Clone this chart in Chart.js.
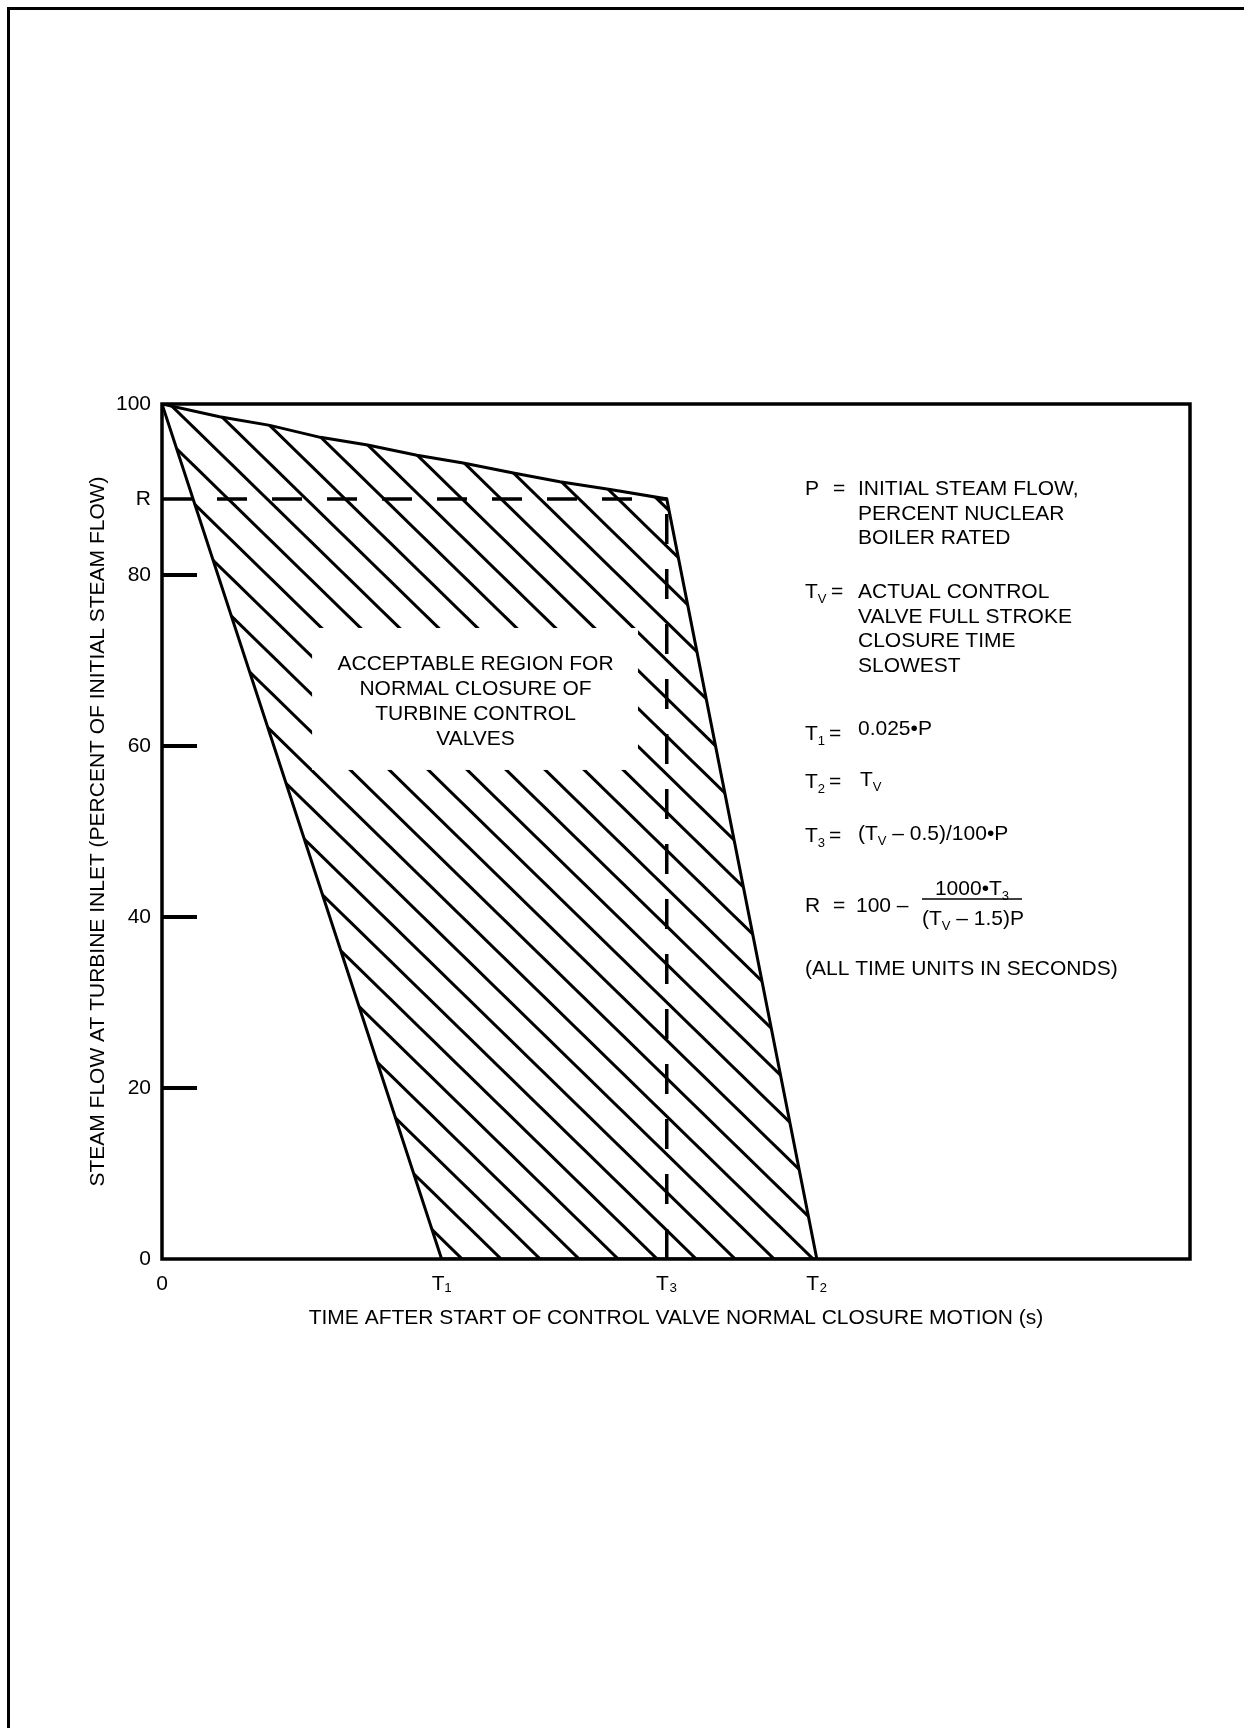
<!DOCTYPE html>
<html>
<head>
<meta charset="utf-8">
<script src="https://cdn.jsdelivr.net/npm/chart.js@4.4.0/dist/chart.umd.min.js"></script>
<style>
  html, body { margin: 0; padding: 0; background: #fff; }
  #page { position: absolute; left: 7px; top: 7px; right: 0; bottom: 0;
          border-top: 3px solid #000; border-left: 3px solid #000; }
  #wrap { position: absolute; left: 0; top: 0; width: 1244px; height: 1728px; }
</style>
</head>
<body>
<div id="page"></div>
<div id="wrap"><canvas id="chart" width="1244" height="1728"></canvas></div>
<script>
/* closure curve - acceptable region for turbine control valves */

const FONT = '"Liberation Sans", Arial, Helvetica, sans-serif';

// time axis marks (arbitrary units, axis runs 0..10)
const T1 = 2.72;
const T3 = 4.91;
const T2 = 6.37;
// R level (percent of initial flow)
const R = 88.9;

// upper edge of the region, from (0,100) to (T3,R)
const upperX = [0, 0.56, 1.05, 1.54, 2.0, 2.48, 2.93, 3.43, 3.87, 4.36, T3];
const upperY = [100, 98.5, 97.5, 96.1, 95.2, 94.0, 93.1, 91.9, 90.9, 90.0, R];

const xTicks = [0, T1, T3, T2];
const xTickLabels = ['0', 'T\u2081', 'T\u2083', 'T\u2082'];
const yTicks = [0, 20, 40, 60, 80, R, 100];
const innerTicks = [20, 40, 60, 80];

const regionText = ['ACCEPTABLE REGION FOR', 'NORMAL CLOSURE OF', 'TURBINE CONTROL', 'VALVES'];
const noteP = ['INITIAL STEAM FLOW,', 'PERCENT NUCLEAR', 'BOILER RATED'];
const noteTV = ['ACTUAL CONTROL', 'VALVE FULL STROKE', 'CLOSURE TIME', 'SLOWEST'];
const noteT1 = ['0.025\u2022P'];
const noteT2 = ['T', ['V']];
const noteT3 = ['(T', ['V'], ' \u2013 0.5)/100\u2022P'];
const noteRnum = ['1000\u2022T', ['3']];
const noteRden = ['(T', ['V'], ' \u2013 1.5)P'];
const noteUnits = '(ALL TIME UNITS IN SECONDS)';

// region polygon: upper edge, right edge down to T2, along axis to T1, back up to origin
const regionPts = upperX.map((x, i) => ({ x: x, y: upperY[i] }))
  .concat([{ x: T2, y: 0 }, { x: T1, y: 0 }, { x: 0, y: 100 }]);

function makeHatch(ctx) {
  const w = 39, h = 38, x0 = 28;
  const c = document.createElement('canvas');
  c.width = w; c.height = h;
  const g = c.getContext('2d');
  g.strokeStyle = '#000';
  g.lineWidth = 3;
  for (let k = -2; k <= 2; k++) {
    g.beginPath();
    g.moveTo(x0 + k * w - w, -h);
    g.lineTo(x0 + k * w + 2 * w, 2 * h);
    g.stroke();
  }
  return ctx.createPattern(c, 'repeat');
}

// text with subscripts: plain strings, or ['x'] for a subscript
function drawRich(ctx, x, y, parts, size) {
  size = size || 21;
  parts.forEach(function(p) {
    const sub = Array.isArray(p);
    const s = sub ? p[0] : p;
    ctx.font = (sub ? 13 : size) + 'px ' + FONT;
    ctx.fillText(s, x, sub ? y + 5 : y);
    x += ctx.measureText(s).width;
  });
  return x;
}
function richWidth(ctx, parts, size) {
  size = size || 21;
  let w = 0;
  parts.forEach(function(p) {
    const sub = Array.isArray(p);
    ctx.font = (sub ? 13 : size) + 'px ' + FONT;
    w += ctx.measureText(sub ? p[0] : p).width;
  });
  return w;
}

const framePlugin = {
  id: 'frame',
  afterDatasetsDraw(chart) {
    const ctx = chart.ctx;
    const { left, top, right, bottom } = chart.chartArea;
    const y = chart.scales.y;
    ctx.save();
    ctx.strokeStyle = '#000';
    ctx.lineWidth = 3.5;
    ctx.strokeRect(left, top, right - left, bottom - top);
    ctx.lineWidth = 4;
    innerTicks.forEach(function(v) {
      const py = y.getPixelForValue(v);
      ctx.beginPath();
      ctx.moveTo(left, py);
      ctx.lineTo(left + 35, py);
      ctx.stroke();
    });
    ctx.restore();
  }
};

const labelPlugin = {
  id: 'labels',
  afterDatasetsDraw(chart) {
    const ctx = chart.ctx;
    const xs = chart.scales.x, ys = chart.scales.y;
    ctx.save();
    // white box over the hatching
    const bx1 = xs.getPixelForValue(1.46), bx2 = xs.getPixelForValue(4.63);
    const by1 = ys.getPixelForValue(73.8), by2 = ys.getPixelForValue(57.2);
    ctx.fillStyle = '#fff';
    ctx.fillRect(bx1, by1, bx2 - bx1, by2 - by1);
    ctx.fillStyle = '#000';
    ctx.textAlign = 'center';
    ctx.textBaseline = 'alphabetic';
    ctx.font = '21px ' + FONT;
    const cx = xs.getPixelForValue(3.05);
    regionText.forEach(function(s, i) {
      ctx.fillText(s, cx, 670 + i * 25);
    });

    // notes at right
    ctx.textAlign = 'left';
    ctx.font = '21px ' + FONT;
    ctx.fillText('P', 805, 495);
    ctx.fillText('=', 833, 495);
    noteP.forEach(function(s, i) { ctx.fillText(s, 858, 495 + i * 24.5); });

    drawRich(ctx, 805, 598, ['T', ['V']]);
    ctx.font = '21px ' + FONT;
    ctx.fillText('=', 831, 598);
    noteTV.forEach(function(s, i) { ctx.fillText(s, 858, 598 + i * 24.7); });

    drawRich(ctx, 805, 740, ['T', ['1']]);
    ctx.font = '21px ' + FONT;
    ctx.fillText('=', 829, 740);
    drawRich(ctx, 858, 735, noteT1);

    drawRich(ctx, 805, 788, ['T', ['2']]);
    ctx.font = '21px ' + FONT;
    ctx.fillText('=', 829, 788);
    drawRich(ctx, 860, 786, noteT2);

    drawRich(ctx, 805, 842, ['T', ['3']]);
    ctx.font = '21px ' + FONT;
    ctx.fillText('=', 829, 842);
    drawRich(ctx, 858, 840, noteT3);

    ctx.font = '21px ' + FONT;
    ctx.fillText('R', 805, 912);
    ctx.fillText('=', 833, 912);
    ctx.fillText('100 \u2013', 856, 912);
    ctx.lineWidth = 1.5;
    ctx.beginPath();
    ctx.moveTo(922, 899);
    ctx.lineTo(1022, 899);
    ctx.stroke();
    const nw = richWidth(ctx, noteRnum);
    drawRich(ctx, 972 - nw / 2, 895, noteRnum);
    const dw = richWidth(ctx, noteRden);
    drawRich(ctx, 973 - dw / 2, 925, noteRden);

    ctx.font = '21px ' + FONT;
    ctx.fillText(noteUnits, 805, 975);
    ctx.restore();
  }
};

const canvas = document.getElementById('chart');
const hatch = makeHatch(canvas.getContext('2d'));

Chart.defaults.font.family = FONT;
Chart.defaults.color = '#000';

new Chart(canvas, {
  type: 'scatter',
  data: {
    datasets: [
      {
        label: 'region',
        data: regionPts,
        showLine: true,
        borderColor: '#000',
        borderWidth: 3,
        backgroundColor: hatch,
        fill: 'shape',
        pointRadius: 0,
        tension: 0,
      },
      {
        label: 'R',
        data: [{ x: 0, y: R }, { x: T3, y: R }],
        showLine: true,
        borderColor: '#000',
        borderWidth: 3.5,
        borderDash: [30, 25],
        pointRadius: 0,
      },
      {
        label: 'T3',
        data: [{ x: T3, y: 0 }, { x: T3, y: R }],
        showLine: true,
        borderColor: '#000',
        borderWidth: 3.5,
        borderDash: [30, 25],
        pointRadius: 0,
      }
    ]
  },
  plugins: [framePlugin, labelPlugin],
  options: {
    responsive: false,
    animation: false,
    devicePixelRatio: 1,
    layout: { padding: { left: 82, right: 54, top: 404, bottom: 393 } },
    plugins: { legend: { display: false }, tooltip: { enabled: false } },
    scales: {
      x: {
        type: 'linear', min: 0, max: 10,
        grid: { display: false },
        border: { display: false },
        afterBuildTicks: s => { s.ticks = xTicks.map(v => ({ value: v })); },
        afterFit: s => { s.height = 76; },
        ticks: {
          autoSkip: false, maxRotation: 0, padding: 5,
          font: { size: 21 },
          callback: (v, i) => xTickLabels[i]
        },
        title: {
          display: true,
          text: 'TIME AFTER START OF CONTROL VALVE NORMAL CLOSURE MOTION (s)',
          font: { size: 21 },
          padding: { top: 0, bottom: 4 }
        }
      },
      y: {
        type: 'linear', min: 0, max: 100,
        grid: { display: false },
        border: { display: false },
        afterBuildTicks: s => { s.ticks = yTicks.map(v => ({ value: v })); },
        afterFit: s => { s.width = 80; },
        ticks: {
          autoSkip: false, padding: 3,
          font: { size: 21 },
          callback: v => v === R ? 'R' : String(v)
        },
        title: {
          display: true,
          text: 'STEAM FLOW AT TURBINE INLET (PERCENT OF INITIAL STEAM FLOW)',
          font: { size: 21 },
          padding: { top: 4, bottom: 0 }
        }
      }
    }
  }
});
</script>
</body>
</html>
